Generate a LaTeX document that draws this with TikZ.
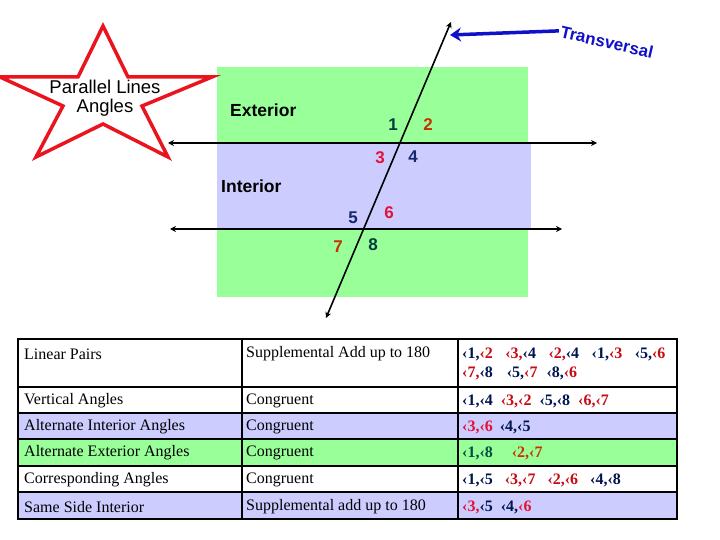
\documentclass[tikz,border=0pt]{standalone}
\usepackage{fontspec}
\setmainfont{Liberation Serif}
\newfontfamily\dsans{Liberation Sans}
\usepackage{xcolor}
\usetikzlibrary{arrows.meta,positioning}

\definecolor{lgreen}{RGB}{153,255,153}
\definecolor{lblue}{RGB}{204,204,255}
\definecolor{starred}{RGB}{235,20,30}
\definecolor{nblue}{RGB}{16,16,200}
\definecolor{dteal}{RGB}{0,60,60}
\definecolor{dnavy}{RGB}{20,40,110}
\definecolor{ored}{RGB}{200,50,0}
\definecolor{cred}{RGB}{225,20,55}
\definecolor{tnavy}{RGB}{0,20,80}
\definecolor{tred}{RGB}{200,10,20}
\definecolor{tgreen}{RGB}{0,80,60}

\newcommand{\angnum}[2]{\textcolor{#1}{‹#2}}

\tikzset{
  line/.style={line width=1.6pt, {Stealth[length=6pt,width=6pt]}-{Stealth[length=6pt,width=6pt]}},
  num/.style={font=\dsans\bfseries\fontsize{17}{17}\selectfont, inner sep=0pt},
  region/.style={font=\dsans\bfseries\fontsize{17.5}{17.5}\selectfont, anchor=west, inner sep=0pt},
  cell/.style={font=\fontsize{16}{19}\selectfont, anchor=west, inner sep=0pt},
  pairs/.style={font=\bfseries\fontsize{16}{19}\selectfont, anchor=west, inner sep=0pt},
  tline/.style={line width=2pt}
}

\begin{document}
\begin{tikzpicture}[x=1pt, y=-1pt, >=Stealth]
  \useasboundingbox (0,0) rectangle (720,540);

  % Regions
  \fill[lgreen] (217,67) rectangle (528,297);
  \fill[lblue] (217,143) rectangle (531,229);

  % Star
  \draw[starred, fill=white, line width=3.5pt, line join=miter]
    (103,26) -- (128,77) -- (212,77) -- (142,106) -- (168,157) -- (103,124)
    -- (36,157) -- (63,106) -- (0,77) -- (78,77) -- cycle;
  \node (title) at (105,98) [align=center, inner sep=0pt,
    font=\dsans\fontsize{18.5}{19.5}\selectfont] {Parallel Lines\\Angles};

  % Lines
  \coordinate (l1a) at (168,143);
  \coordinate (l1b) at (597,143);
  \coordinate (l2a) at (170,229);
  \coordinate (l2b) at (562,229);
  \coordinate (t1) at (326,318);
  \coordinate (t2) at (451,22);
  \draw[line] (l1a) -- (l1b);
  \draw[line] (l2a) -- (l2b);
  \draw[line] (t1) -- (t2);

  % Labels
  \node[region] (ext) at (230,110) {Exterior};
  \node[region] (int) at (221,186) {Interior};
  \node[num, text=dteal] (a1) at (393,125) {1};
  \node[num, text=ored] (a2) at (428,125) {2};
  \node[num, text=cred] (a3) at (380,158) {3};
  \node[num, text=dnavy] (a4) at (413,157) {4};
  \node[num, text=dnavy] (a5) at (353,218) {5};
  \node[num, text=cred] (a6) at (389,213) {6};
  \node[num, text=ored] (a7) at (338,247) {7};
  \node[num, text=dteal] (a8) at (373,245) {8};

  % Transversal pointer
  \node (trans) at (607,42) [rotate=-13, text=nblue, inner sep=2pt,
    font=\dsans\bfseries\fontsize{17}{17}\selectfont] {Transversal};
  \coordinate (tip) at (450,35);
  \draw[nblue, line width=3.5pt, -{Stealth[length=11pt,width=14pt]}] (trans.west) -- (tip);

  % Table
  \fill[lblue] (18,413) rectangle (677,439);
  \fill[lgreen] (18,439) rectangle (677,466);
  \fill[lblue] (18,492) rectangle (677,519);
  \draw[tline] (18,339) rectangle (677,519);
  \foreach \y in {387,413,439,466,492}
    \draw[tline] (18,\y) -- (677,\y);
  \foreach \x in {242,458}
    \draw[tline] (\x,339) -- (\x,519);

  \node[cell] (r1a) at (24,354) {Linear Pairs};
  \node[cell] (r1b) at (246,354) {Supplemental Add up to 180};
  \node[pairs] (r1c) at (462,354) {\angnum{tnavy}{1,}\angnum{tred}{2}\hspace{12.5pt}\angnum{tred}{3,}\angnum{tnavy}{4}\hspace{12.5pt}\angnum{tred}{2,}\angnum{tnavy}{4}\hspace{12.5pt}\angnum{tnavy}{1,}\angnum{tred}{3}\hspace{12.5pt}\angnum{tnavy}{5,}\angnum{tred}{6}};
  \node[pairs] (r1d) at (462,373) {\angnum{tred}{7,}\angnum{tnavy}{8}\hspace{14pt}\angnum{tnavy}{5,}\angnum{tred}{7}\hspace{9pt}\angnum{tnavy}{8,}\angnum{tred}{6}};

  \node[cell] (r2a) at (24,401) {Vertical Angles};
  \node[cell] (r2b) at (246,401) {Congruent};
  \node[pairs] (r2c) at (462,401) {\angnum{tnavy}{1,}\angnum{tnavy}{4}\hspace{8pt}\angnum{tred}{3,}\angnum{tred}{2}\hspace{8pt}\angnum{tnavy}{5,}\angnum{tnavy}{8}\hspace{8pt}\angnum{tred}{6,}\angnum{tred}{7}};

  \node[cell] (r3a) at (24,427) {Alternate Interior Angles};
  \node[cell] (r3b) at (246,427) {Congruent};
  \node[pairs] (r3c) at (462,427) {\angnum{cred}{3,}\angnum{cred}{6}\hspace{7pt}\angnum{tnavy}{4,}\angnum{tnavy}{5}};

  \node[cell] (r4a) at (24,453) {Alternate Exterior Angles};
  \node[cell] (r4b) at (246,453) {Congruent};
  \node[pairs] (r4c) at (462,453) {\angnum{tgreen}{1,}\angnum{tgreen}{8}\hspace{19pt}\angnum{ored}{2,}\angnum{ored}{7}};

  \node[cell] (r5a) at (24,480) {Corresponding Angles};
  \node[cell] (r5b) at (246,480) {Congruent};
  \node[pairs] (r5c) at (462,480) {\angnum{tnavy}{1,}\angnum{tnavy}{5}\hspace{12pt}\angnum{tred}{3,}\angnum{tred}{7}\hspace{12pt}\angnum{tred}{2,}\angnum{tred}{6}\hspace{12pt}\angnum{tnavy}{4,}\angnum{tnavy}{8}};

  \node[cell] (r6a) at (24,507) {Same Side Interior};
  \node[cell] (r6b) at (246,507) {Supplemental add up to 180};
  \node[pairs] (r6c) at (462,507) {\angnum{cred}{3,}\angnum{tnavy}{5}\hspace{8pt}\angnum{tnavy}{4,}\angnum{cred}{6}};

\end{tikzpicture}
\end{document}
